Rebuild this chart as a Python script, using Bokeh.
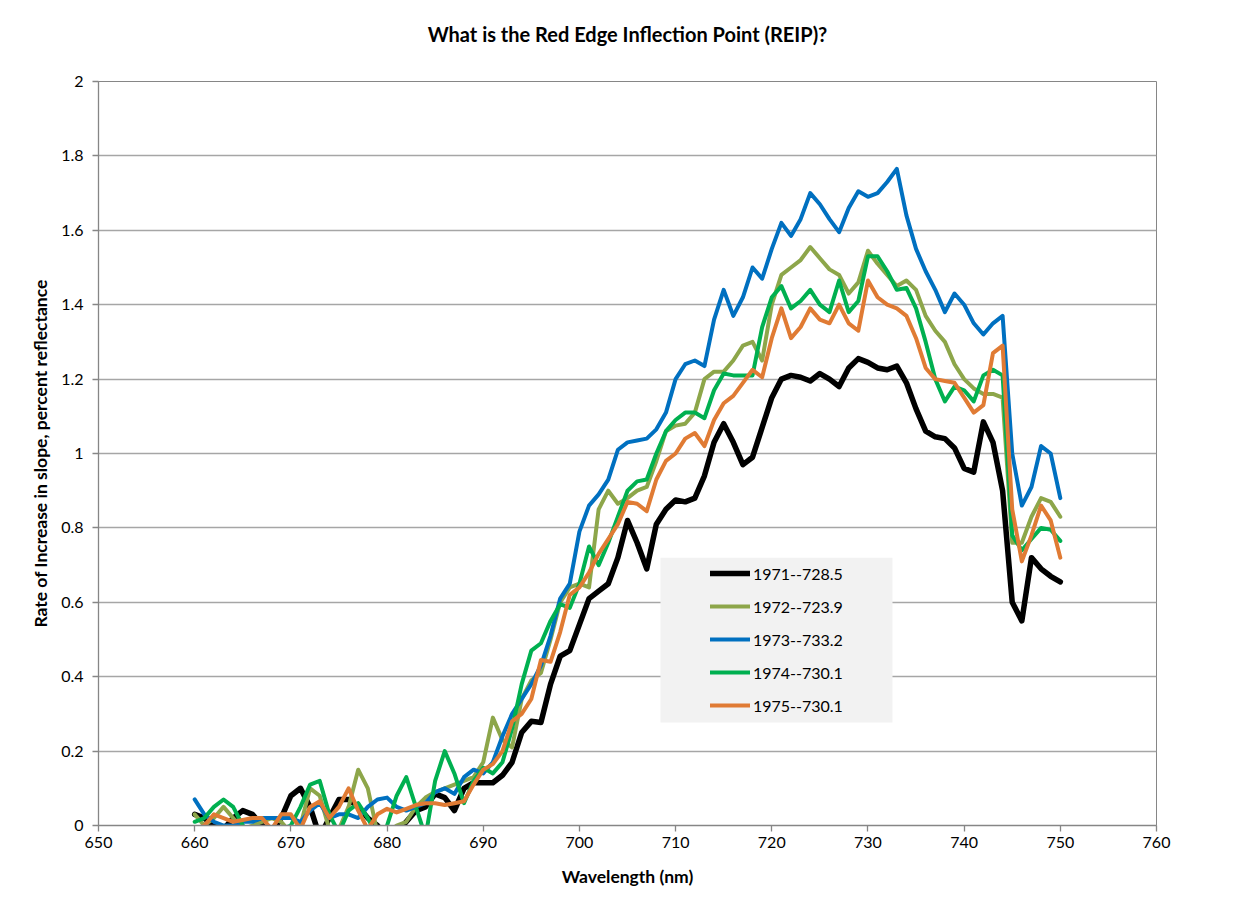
from bokeh.plotting import figure
from bokeh.models import Legend, LegendItem, FixedTicker, BoxAnnotation, LinearAxis
from bokeh.embed import file_html
from bokeh.resources import INLINE

wavelength = [660, 661, 662, 663, 664, 665, 666, 667, 668, 669,
              670, 671, 672, 673, 674, 675, 676, 677, 678, 679,
              680, 681, 682, 683, 684, 685, 686, 687, 688, 689,
              690, 691, 692, 693, 694, 695, 696, 697, 698, 699,
              700, 701, 702, 703, 704, 705, 706, 707, 708, 709,
              710, 711, 712, 713, 714, 715, 716, 717, 718, 719,
              720, 721, 722, 723, 724, 725, 726, 727, 728, 729,
              730, 731, 732, 733, 734, 735, 736, 737, 738, 739,
              740, 741, 742, 743, 744, 745, 746, 747, 748, 749, 750]

y1971 = [0.03, 0.02, 0.0, -0.01, 0.02, 0.04, 0.03, 0.0, -0.02, 0.02,
         0.08, 0.10, 0.05, -0.03, 0.02, 0.07, 0.07, 0.05, 0.02, 0.0,
         -0.03, -0.02, 0.01, 0.04, 0.05, 0.085, 0.075, 0.04, 0.10, 0.115,
         0.115, 0.115, 0.135, 0.17, 0.25, 0.28, 0.277, 0.38, 0.455, 0.47,
         0.54, 0.61, 0.63, 0.65, 0.72, 0.82, 0.76, 0.69, 0.81, 0.85,
         0.875, 0.87, 0.88, 0.94, 1.03, 1.08, 1.03, 0.97, 0.99, 1.07,
         1.15, 1.20, 1.21, 1.205, 1.195, 1.215, 1.20, 1.18, 1.23, 1.255,
         1.245, 1.23, 1.225, 1.235, 1.19, 1.12, 1.06, 1.045, 1.04, 1.015,
         0.96, 0.95, 1.085, 1.03, 0.90, 0.60, 0.55, 0.72, 0.69, 0.67, 0.655]

y1972 = [0.03, 0.0, 0.02, 0.05, 0.02, -0.01, 0.0, 0.01, 0.02, 0.01,
         -0.02, 0.0, 0.10, 0.08, -0.01, -0.01, 0.05, 0.15, 0.10, -0.02,
         -0.02, 0.0, 0.01, 0.05, 0.075, 0.09, 0.10, 0.11, 0.12, 0.13,
         0.17, 0.29, 0.23, 0.21, 0.34, 0.39, 0.41, 0.50, 0.60, 0.64,
         0.65, 0.64, 0.85, 0.90, 0.865, 0.88, 0.90, 0.91, 0.98, 1.06,
         1.075, 1.08, 1.11, 1.20, 1.22, 1.22, 1.25, 1.29, 1.30, 1.25,
         1.40, 1.48, 1.50, 1.52, 1.555, 1.525, 1.495, 1.48, 1.43, 1.46,
         1.545, 1.51, 1.48, 1.45, 1.465, 1.44, 1.37, 1.33, 1.30, 1.24,
         1.20, 1.175, 1.16, 1.16, 1.15, 0.76, 0.76, 0.83, 0.88, 0.87, 0.83]

y1973 = [0.07, 0.03, 0.01, 0.0, 0.0, 0.01, 0.01, 0.02, 0.02, 0.02,
         0.02, 0.01, 0.04, 0.06, 0.02, 0.03, 0.03, 0.02, 0.05, 0.07,
         0.075, 0.05, 0.04, 0.05, 0.06, 0.09, 0.10, 0.085, 0.13, 0.15,
         0.14, 0.17, 0.24, 0.30, 0.34, 0.38, 0.43, 0.51, 0.61, 0.65,
         0.79, 0.86, 0.89, 0.93, 1.01, 1.03, 1.035, 1.04, 1.065, 1.11,
         1.20, 1.24, 1.25, 1.235, 1.36, 1.44, 1.37, 1.42, 1.50, 1.47,
         1.55, 1.62, 1.585, 1.63, 1.70, 1.67, 1.63, 1.595, 1.66, 1.705,
         1.69, 1.70, 1.73, 1.765, 1.64, 1.55, 1.49, 1.44, 1.38, 1.43,
         1.40, 1.35, 1.32, 1.35, 1.37, 1.00, 0.86, 0.91, 1.02, 1.00, 0.88]

y1974 = [0.01, 0.02, 0.05, 0.07, 0.05, 0.0, -0.02, -0.02, -0.02, -0.01,
         0.0, 0.05, 0.11, 0.12, 0.03, -0.02, 0.04, 0.06, 0.02, -0.03,
         0.0, 0.08, 0.13, 0.05, -0.03, 0.12, 0.20, 0.14, 0.06, 0.12,
         0.155, 0.14, 0.17, 0.26, 0.38, 0.47, 0.49, 0.55, 0.595, 0.585,
         0.65, 0.75, 0.70, 0.76, 0.83, 0.90, 0.925, 0.93, 1.00, 1.06,
         1.09, 1.11, 1.11, 1.095, 1.17, 1.215, 1.21, 1.21, 1.21, 1.34,
         1.42, 1.45, 1.39, 1.41, 1.44, 1.40, 1.38, 1.465, 1.38, 1.41,
         1.53, 1.53, 1.49, 1.44, 1.445, 1.39, 1.30, 1.20, 1.14, 1.18,
         1.17, 1.14, 1.21, 1.225, 1.21, 0.78, 0.74, 0.77, 0.80, 0.795, 0.765]

y1975 = [-0.01, 0.0, 0.03, 0.02, 0.01, 0.015, 0.02, 0.02, -0.01, 0.03,
         0.03, -0.01, 0.05, 0.065, 0.02, 0.05, 0.10, 0.04, -0.01, 0.03,
         0.045, 0.035, 0.045, 0.055, 0.06, 0.06, 0.055, 0.06, 0.065, 0.11,
         0.15, 0.165, 0.20, 0.28, 0.30, 0.34, 0.445, 0.44, 0.52, 0.62,
         0.64, 0.68, 0.73, 0.77, 0.81, 0.87, 0.865, 0.845, 0.93, 0.98,
         1.00, 1.04, 1.055, 1.02, 1.09, 1.135, 1.155, 1.19, 1.225, 1.205,
         1.31, 1.39, 1.31, 1.34, 1.39, 1.36, 1.35, 1.40, 1.35, 1.33,
         1.465, 1.42, 1.40, 1.39, 1.37, 1.31, 1.23, 1.20, 1.195, 1.19,
         1.15, 1.11, 1.13, 1.27, 1.29, 0.85, 0.71, 0.78, 0.86, 0.82, 0.72]

series_labels = ["1971--728.5", "1972--723.9", "1973--733.2", "1974--730.1", "1975--730.1"]
series_values = [y1971, y1972, y1973, y1974, y1975]

x_ticks = [650, 660, 670, 680, 690, 700, 710, 720, 730, 740, 750, 760]
y_ticks = [0, 0.2, 0.4, 0.6, 0.8, 1, 1.2, 1.4, 1.6, 1.8, 2]
y_tick_labels = ["0", "0.2", "0.4", "0.6", "0.8", "1", "1.2", "1.4", "1.6", "1.8", "2"]

title_text = "What is the Red Edge Inflection Point (REIP)?"
x_label = "Wavelength (nm)"
y_label = "Rate of Increase in slope, percent reflectance"

colors = ["#000000", "#8DA64A", "#0070C0", "#00B050", "#E07B34"]
widths = [5.5, 4, 4, 4, 4]
FONT = "Lato"

p = figure(width=1234, height=889, x_range=(650, 760), y_range=(0, 2),
           output_backend="svg", toolbar_location=None,
           min_border_left=98, min_border_right=78,
           min_border_top=81, min_border_bottom=64,
           background_fill_color="white", border_fill_color="white")

xax = p.below[0]
yax = p.left[0]

p.outline_line_color = "#868686"
p.outline_line_width = 1

p.xgrid.grid_line_color = None
p.ygrid.grid_line_color = "#A6A6A6"
p.ygrid.grid_line_width = 1.3
p.ygrid.ticker = FixedTicker(ticks=y_ticks)

for ax in (xax, yax):
    ax.axis_line_color = "#868686"
    ax.axis_line_width = 1.3
    ax.major_tick_line_color = "#868686"
    ax.major_tick_line_width = 1.3
    ax.major_tick_out = 6
    ax.major_tick_in = 0
    ax.minor_tick_line_color = None
    ax.major_label_text_font = FONT
    ax.major_label_text_font_size = "16px"
    ax.major_label_text_color = "#000000"
    ax.axis_label_text_font = FONT
    ax.axis_label_text_font_size = "17.5px"
    ax.axis_label_text_font_style = "bold"
    ax.axis_label_text_color = "#000000"

xax.ticker = FixedTicker(ticks=x_ticks)
yax.ticker = FixedTicker(ticks=y_ticks)
yax.major_label_overrides = {t: l for t, l in zip(y_ticks, y_tick_labels)}
xax.axis_label = x_label
yax.axis_label = y_label
xax.major_label_standoff = 5
yax.major_label_standoff = 9
xax.axis_label_standoff = 15
yax.axis_label_standoff = 7

# chart title drawn as the label of a bare axis placed above the frame
title_axis = LinearAxis(ticker=FixedTicker(ticks=[]), axis_label=title_text,
                        axis_line_color=None, major_tick_line_color=None,
                        minor_tick_line_color=None,
                        major_tick_out=0, major_tick_in=0,
                        major_label_text_font_size="0px",
                        axis_label_text_font=FONT,
                        axis_label_text_font_size="20px",
                        axis_label_text_font_style="bold",
                        axis_label_text_color="#000000",
                        axis_label_standoff=36)
p.add_layout(title_axis, "above")

renderers = []
for lab, vals, col, w in zip(series_labels, series_values, colors, widths):
    r = p.line(wavelength, vals, line_color=col, line_width=w,
               line_join="round", line_cap="round")
    renderers.append((lab, r))

box = BoxAnnotation(left=708.43, right=732.55, bottom=0.277, top=0.720,
                    fill_color="#F2F2F2", fill_alpha=1.0, line_color=None)
p.add_layout(box)

legend = Legend(items=[LegendItem(label=lab, renderers=[r]) for lab, r in renderers],
                location=(612, 110), orientation="vertical",
                background_fill_alpha=0, border_line_color=None,
                padding=0, margin=0, spacing=13,
                glyph_width=40, glyph_height=20, label_height=20,
                label_standoff=3,
                label_text_font=FONT, label_text_font_size="16px",
                label_text_color="#000000")
p.add_layout(legend, "center")

open("out.html", "w").write(file_html(p, INLINE))
